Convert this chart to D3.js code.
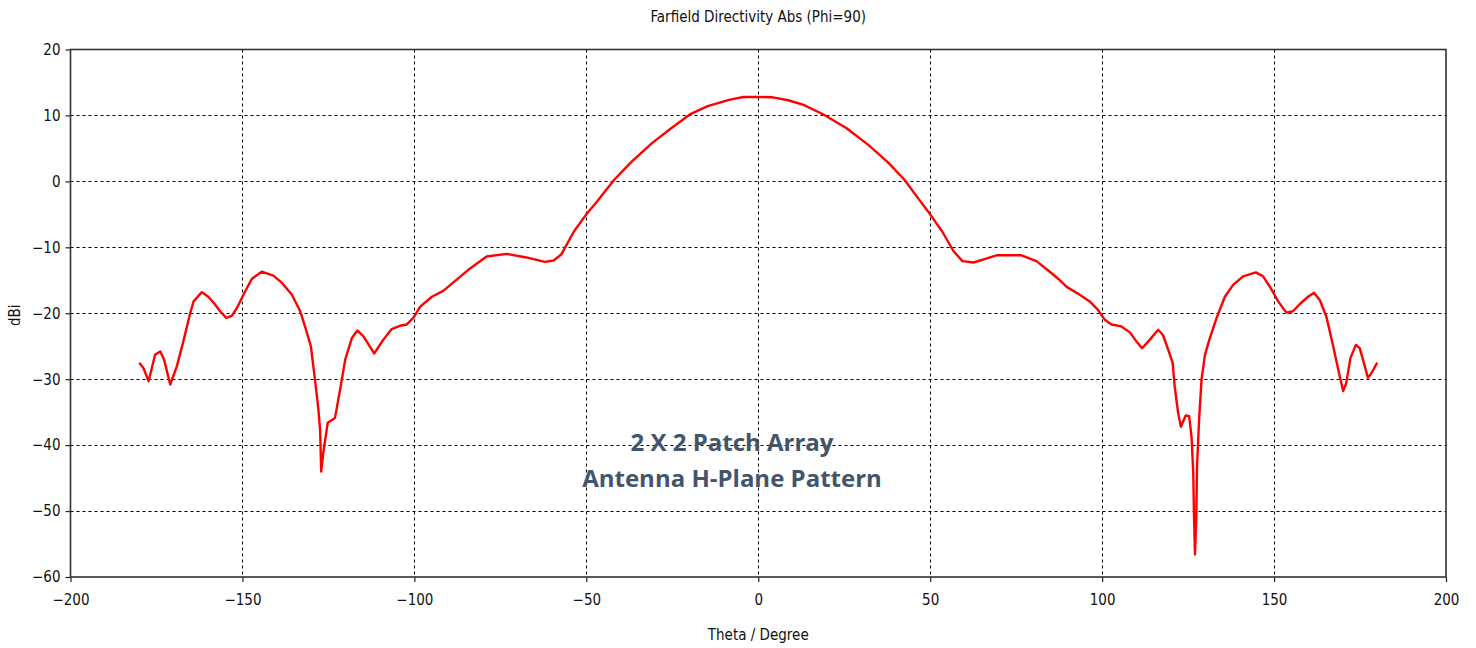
<!DOCTYPE html>
<html>
<head>
<meta charset="utf-8">
<script src="https://cdn.jsdelivr.net/npm/d3@7"></script>
<style>
  html, body { margin: 0; padding: 0; background: #fff; }
  svg { display: block; }
  .tick text { font-family: Tahoma, "DejaVu Sans Condensed", sans-serif; font-size: 15px; fill: #111; }
</style>
</head>
<body>
<svg id="chart" width="1476" height="648"></svg>
<script>
// ---- data ----
const theta = [
  -180, -178.8, -177.3, -175.4, -173.9, -172.8, -171.0, -169.1, -167.2, -165.2,
  -164.2, -161.8, -159.9, -157.9, -156.5, -154.7, -153.1, -151.6, -149.7, -147.3,
  -144.4, -141.0, -138.5, -135.6, -133.2, -131.8, -130.1, -128.9, -127.9, -127.4,
  -127.1, -126.5, -125.2, -123.1, -121.6, -120.1, -118.2, -116.6, -114.8, -111.7,
  -109.0, -106.6, -104.2, -102.2, -100.3, -98.3, -94.9, -91.6, -87.7, -83.8,
  -79.0, -73.1, -67.8, -65.3, -62.1, -59.5, -57.3, -53.6, -50.0, -47.1,
  -41.9, -36.8, -30.9, -25.7, -19.9, -14.7, -8.2, -4.3, 0, 4.2,
  8.7, 13.2, 19.1, 25.6, 32.1, 37.9, 42.5, 46.4, 50.0, 53.5,
  56.8, 59.4, 62.6, 65.8, 69.5, 76.4, 80.9, 84.8, 87.3, 89.7,
  93.5, 96.4, 98.8, 100.8, 102.7, 105.6, 108.1, 110.0, 111.6, 113.9,
  116.3, 117.7, 119.2, 120.5, 121.1, 122.1, 122.9, 124.3, 125.3, 126.0,
  126.5, 126.7, 127.0, 127.4, 127.6, 128.2, 128.9, 129.9, 131.3, 133.3,
  135.7, 138.1, 141.0, 144.7, 146.8, 148.7, 151.2, 153.6, 155.5, 157.5,
  159.9, 161.6, 163.3, 165.2, 167.2, 168.9, 170.1, 171.0, 172.2, 173.8,
  174.9, 176.1, 177.3, 178.3, 180
];
const directivity = [
  -27.5, -28.3, -30.3, -26.3, -25.8, -27.0, -30.8, -28.1, -24.3, -20.0,
  -18.2, -16.8, -17.5, -18.7, -19.7, -20.7, -20.4, -19.2, -17.2, -14.8,
  -13.7, -14.3, -15.4, -17.2, -19.7, -22.0, -25.0, -30.1, -34.6, -37.9,
  -44.0, -41.2, -36.6, -35.9, -31.6, -27.0, -23.8, -22.6, -23.5, -26.1,
  -24.0, -22.4, -21.9, -21.7, -20.7, -19.0, -17.5, -16.6, -14.9, -13.2,
  -11.4, -11.0, -11.5, -11.8, -12.2, -12.0, -11.1, -7.6, -5.0, -3.2,
  0.25, 3.0, 5.8, 7.9, 10.15, 11.4, 12.4, 12.8, 12.8, 12.75,
  12.3, 11.6, 10.1, 8.1, 5.5, 2.8, 0.25, -2.5, -5.0, -7.6,
  -10.6, -12.1, -12.3, -11.8, -11.2, -11.2, -12.1, -13.7, -14.8, -16.0,
  -17.2, -18.2, -19.5, -21.0, -21.7, -22.0, -22.9, -24.3, -25.3, -24.0,
  -22.5, -23.3, -25.5, -27.5, -31.1, -35.1, -37.2, -35.5, -35.6, -38.7,
  -44.2, -50.3, -56.6, -50.8, -43.2, -36.1, -30.1, -26.3, -23.8, -20.7,
  -17.5, -15.7, -14.4, -13.8, -14.4, -15.9, -18.2, -19.9, -19.7, -18.6,
  -17.5, -16.9, -18.0, -20.5, -25.0, -29.1, -31.8, -30.6, -26.8, -24.8,
  -25.3, -27.5, -29.8, -29.1, -27.5
];
const xTicks = [-200, -150, -100, -50, 0, 50, 100, 150, 200];
const yTicks = [20, 10, 0, -10, -20, -30, -40, -50, -60];
const xDomain = [-200, 200];
const yDomain = [-60, 20];
const titleText = "Farfield Directivity Abs (Phi=90)";
const xLabel = "Theta / Degree";
const yLabel = "dBi";
const noteLines = ["2 X 2 Patch Array", "Antenna H-Plane Pattern"];

// ---- layout ----
const svg = d3.select("#chart");
const W = 1476, H = 648;
const m = { left: 70.5, right: 30, top: 49.5, bottom: 71 };
const x = d3.scaleLinear().domain(xDomain).range([m.left, W - m.right]);
const y = d3.scaleLinear().domain(yDomain).range([H - m.bottom, m.top]);

svg.append("rect").attr("width", W).attr("height", H).attr("fill", "#fff");

// grid
const grid = svg.append("g");
grid.selectAll("line.vg").data(xTicks.slice(1, -1)).join("line")
  .attr("x1", d => Math.round(x(d)) + 0.5).attr("x2", d => Math.round(x(d)) + 0.5)
  .attr("y1", y(yDomain[1])).attr("y2", y(yDomain[0]))
  .attr("stroke", "#000").attr("stroke-width", 1).attr("stroke-dasharray", "3,3");
grid.selectAll("line.hg").data(yTicks.slice(1, -1)).join("line")
  .attr("y1", d => Math.round(y(d)) + 0.5).attr("y2", d => Math.round(y(d)) + 0.5)
  .attr("x1", x(xDomain[0])).attr("x2", x(xDomain[1]))
  .attr("stroke", "#000").attr("stroke-width", 1).attr("stroke-dasharray", "3,3");

// axes
const xAxis = svg.append("g").attr("transform", `translate(0,${y(yDomain[0])})`)
  .call(d3.axisBottom(x).tickValues(xTicks).tickSize(5).tickPadding(12));
const yAxis = svg.append("g").attr("transform", `translate(${x(xDomain[0])},0)`)
  .call(d3.axisLeft(y).tickValues(yTicks).tickSize(5).tickPadding(5));
[xAxis, yAxis].forEach(a => {
  a.select(".domain").remove();
  a.selectAll(".tick line").attr("stroke", "#222").attr("stroke-width", 1.2);
});

// frame
svg.append("rect")
  .attr("x", x(xDomain[0])).attr("y", y(yDomain[1]))
  .attr("width", x(xDomain[1]) - x(xDomain[0]))
  .attr("height", y(yDomain[0]) - y(yDomain[1]))
  .attr("fill", "none").attr("stroke", "#333").attr("stroke-width", 1.6);

// line
const pts = theta.map((t, i) => [t, directivity[i]]);
svg.append("path").datum(pts)
  .attr("d", d3.line().x(d => x(d[0])).y(d => y(d[1])).curve(d3.curveLinear))
  .attr("fill", "none").attr("stroke", "#ff0000").attr("stroke-width", 2.4)
  .attr("stroke-linejoin", "round");

// texts
const font = 'Tahoma, "DejaVu Sans Condensed", sans-serif';
svg.append("text").attr("x", x(0)).attr("y", 22).attr("text-anchor", "middle")
  .attr("font-family", font).attr("font-size", 15).attr("fill", "#111").text(titleText);
svg.append("text").attr("x", x(0)).attr("y", 640).attr("text-anchor", "middle")
  .attr("font-family", font).attr("font-size", 15).attr("fill", "#111").text(xLabel);
svg.append("text").attr("transform", `translate(20,${(y(yDomain[0]) + y(yDomain[1])) / 2 + 2}) rotate(-90)`)
  .attr("text-anchor", "middle")
  .attr("font-family", font).attr("font-size", 15).attr("fill", "#111").text(yLabel);

// annotation
const note = svg.append("text").attr("text-anchor", "middle")
  .attr("font-family", '"Open Sans", sans-serif').attr("font-weight", "bold")
  .attr("font-size", 24).attr("fill", "#44546a");
noteLines.forEach((s, i) => {
  note.append("tspan").attr("x", 732).attr("y", 451 + i * 36).text(s);
});
</script>
</body>
</html>
